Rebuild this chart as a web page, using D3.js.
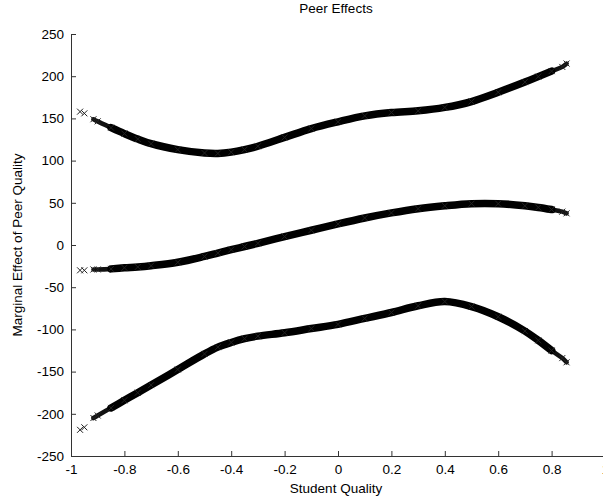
<!DOCTYPE html>
<html>
<head>
<meta charset="utf-8">
<script src="https://d3js.org/d3.v7.min.js"></script>
<style>
  body { margin: 0; background: #fff; }
  text { font-family: "Liberation Sans", Arial, Helvetica, sans-serif; fill: #000; }
  .axis path, .axis line { stroke: #333; }
  .axis text { font-size: 13.5px; }
</style>
</head>
<body>
<script>
	// student quality positions (x)
	var quality = [-0.966, -0.95, -0.916, -0.9, -0.85, -0.8, -0.75, -0.7, -0.6, -0.5, -0.45, -0.4, -0.35,
		-0.3, -0.2, -0.1, 0, 0.1, 0.2, 0.3, 0.4, 0.5, 0.6, 0.7, 0.75, 0.8, 0.84, 0.856];

	// upper band, estimate, lower band
	var upper = [158, 156, 149, 146.5, 139, 132, 125.5, 120, 113, 109, 108.5, 110, 113,
		117, 127.5, 138, 146, 153, 157, 159, 163, 170, 181, 193, 199.5, 206, 211, 215];
	var middle = [-30, -30, -29, -29, -28.3, -27, -26, -24.5, -20.5, -13.5, -9.5, -5.5, -1.8,
		2, 10, 17.5, 25, 32, 38, 43, 46.5, 49, 49, 46.5, 44.5, 42, 39.5, 37.5];
	var lower = [-219, -216, -205, -202, -193, -184, -175, -166, -147.5, -129, -121, -115.5, -111,
		-108, -104, -99, -94, -87, -80, -72, -67, -73, -85, -102, -113, -125, -134, -139];

	var xTicks = [-1, -0.8, -0.6, -0.4, -0.2, 0, 0.2, 0.4, 0.6, 0.8, 1];
	var yTicks = [-250, -200, -150, -100, -50, 0, 50, 100, 150, 200, 250];

	// canvas
	var width = 603;
	var height = 502;
	var svg = d3.select("body")
		.append("svg")
		.attr("width", width)
		.attr("height", height);

	// plot area
	var padding = {left: 71, right: 605, top: 34, bottom: 456};

	var xScale = d3.scaleLinear().domain([-1, 1]).range([padding.left, padding.right]);
	var yScale = d3.scaleLinear().domain([-250, 250]).range([padding.bottom, padding.top]);

	// x axis (ticks pointing inward)
	var gx = svg.append("g")
		.attr("class", "axis")
		.attr("transform", "translate(0," + padding.bottom + ")")
		.call(d3.axisBottom(xScale).tickValues(xTicks).tickSizeInner(-5).tickSizeOuter(0)
			.tickFormat(function(d){ return String(d); }));
	gx.selectAll("text").attr("y", 8).attr("dy", "0.71em");

	// y axis
	var gy = svg.append("g")
		.attr("class", "axis")
		.attr("transform", "translate(" + padding.left + ",0)")
		.call(d3.axisLeft(yScale).tickValues(yTicks).tickSizeInner(-5).tickSizeOuter(0)
			.tickFormat(function(d){ return String(d); }));
	gy.selectAll("text").attr("x", -7);

	// title and labels
	var midX = (padding.left + padding.right) / 2 - 2;
	svg.append("text")
		.attr("x", midX)
		.attr("y", 13)
		.attr("text-anchor", "middle")
		.style("font-size", "13.5px")
		.text("Peer Effects");

	svg.append("text")
		.attr("x", midX)
		.attr("y", 493)
		.attr("text-anchor", "middle")
		.style("font-size", "13.5px")
		.text("Student Quality");

	svg.append("text")
		.attr("transform", "translate(22," + (padding.top + padding.bottom) / 2 + ") rotate(-90)")
		.attr("text-anchor", "middle")
		.style("font-size", "13.5px")
		.text("Marginal Effect of Peer Quality");

	var series = [upper, middle, lower];

	// dense part of each curve drawn as a band of markers
	var line = d3.line()
		.x(function(d){ return xScale(d[0]); })
		.y(function(d){ return yScale(d[1]); })
		.curve(d3.curveCatmullRom);

	series.forEach(function(vals){
		var pts = quality.map(function(q, i){ return [q, vals[i]]; });

		// thinner, ragged ends
		svg.append("path")
			.datum(pts.slice(2))
			.attr("d", line)
			.attr("fill", "none")
			.attr("stroke", "#111")
			.attr("stroke-width", 4.5)
			.attr("stroke-linecap", "round");

		// thick core
		svg.append("path")
			.datum(pts.slice(4, pts.length - 2))
			.attr("d", line)
			.attr("fill", "none")
			.attr("stroke", "#000")
			.attr("stroke-width", 7.5)
			.attr("stroke-linecap", "round");

		// x markers
		svg.selectAll(null)
			.data(pts)
			.enter()
			.append("path")
			.attr("transform", function(d){ return "translate(" + xScale(d[0]) + "," + yScale(d[1]) + ")"; })
			.attr("d", "M-3,-3L3,3M-3,3L3,-3")
			.attr("stroke", "#222")
			.attr("stroke-width", 1)
			.attr("fill", "none");
	});
</script>
</body>
</html>
